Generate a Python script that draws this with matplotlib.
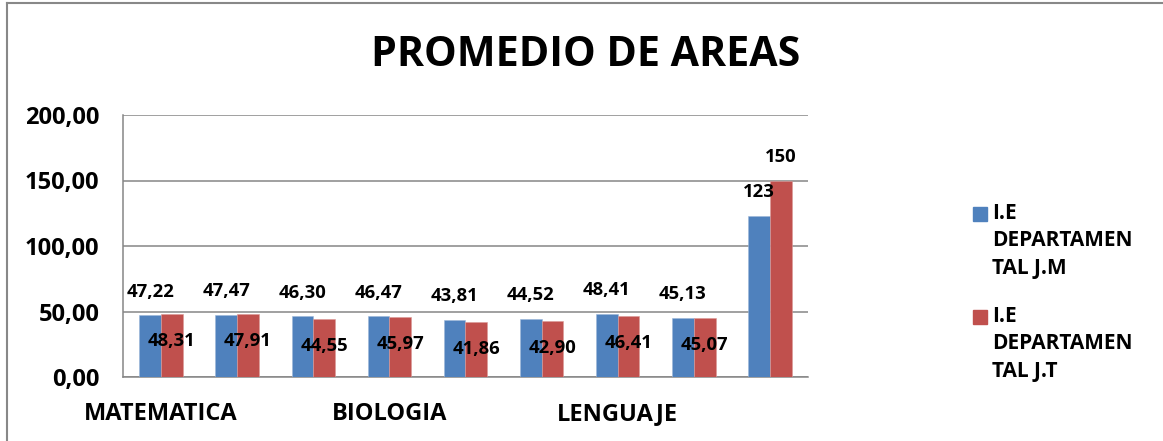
import matplotlib
matplotlib.use("Agg")
import matplotlib.pyplot as plt
from matplotlib.patches import Rectangle
from matplotlib.lines import Line2D
import numpy as np

# ---- data ----
categories = ["MATEMATICA", "", "", "BIOLOGIA", "", "", "LENGUAJE", "", ""]
series_names = ["I.E\nDEPARTAMEN\nTAL J.M", "I.E\nDEPARTAMEN\nTAL J.T"]
jm_values = [47.22, 47.47, 46.30, 46.47, 43.81, 44.52, 48.41, 45.13, 123]
jt_values = [48.31, 47.91, 44.55, 45.97, 41.86, 42.90, 46.41, 45.07, 150]
y_ticks = [0, 50, 100, 150, 200]
title = "PROMEDIO DE AREAS"

BLUE = "#4F81BD"
RED = "#C0504D"
GRID = "#868686"
FONT = "Open Sans"

W, H = 1163, 441
fig = plt.figure(figsize=(W / 100, H / 100), dpi=100)

def fx(px):
    return px / W

def fy(py):
    return 1 - py / H

ax = fig.add_axes([fx(123), fy(377), fx(808) - fx(123), fy(115) - fy(377)])

x = np.arange(len(categories))
bw = 0.285
ax.bar(x - bw / 2, jm_values, bw, color=BLUE, edgecolor="#9DB7D9", linewidth=0.4, zorder=3)
ax.bar(x + bw / 2, jt_values, bw, color=RED, edgecolor="#DA9A98", linewidth=0.4, zorder=3)

def fmt(v):
    if float(v).is_integer():
        return "%d" % v
    return ("%.2f" % v).replace(".", ",")

for i, v in enumerate(jm_values):
    ax.annotate(fmt(v), (x[i] - bw / 2, v), xytext=(0, 17), textcoords="offset points",
                ha="center", va="center", fontsize=13.3, fontweight="bold", family=FONT, zorder=5)
for i, v in enumerate(jt_values):
    off = 17 if v > 100 else -19.5
    ax.annotate(fmt(v), (x[i] + bw / 2, v), xytext=(0, off), textcoords="offset points",
                ha="center", va="center", fontsize=13.3, fontweight="bold", family=FONT, zorder=5)

ax.set_xlim(-0.5, len(categories) - 0.5)
ax.set_ylim(0, 200)
ax.set_yticks(y_ticks)
ax.set_yticklabels([("%.2f" % t).replace(".", ",") for t in y_ticks],
                   fontsize=17, fontweight="bold", family=FONT)
ax.set_xticks(x)
ax.set_xticklabels(categories, fontsize=17, fontweight="bold", family=FONT)
ax.tick_params(axis="y", length=0, pad=17)
ax.tick_params(axis="x", length=0, pad=18)
ax.grid(axis="y", color=GRID, linewidth=1.1, zorder=0)
for s in ["top", "right"]:
    ax.spines[s].set_visible(False)
for s in ["left", "bottom"]:
    ax.spines[s].set_color(GRID)
    ax.spines[s].set_linewidth(1.1)

fig.text(fx(586), fy(56), title, ha="center", va="center", fontsize=29.6,
         fontweight="bold", family=FONT)

# legend
for k, (name, col) in enumerate(zip(series_names, [BLUE, RED])):
    top = 207 + k * 103
    fig.patches.append(Rectangle((fx(973), fy(top + 14)), fx(14), fy(top) - fy(top + 14),
                                 transform=fig.transFigure, color=col))
    fig.text(fx(992), fy(top - 4), name, ha="left", va="top", fontsize=15,
             fontweight="bold", family=FONT, linespacing=1.4)

# outer frame (left and top edges)
fig.lines.append(Line2D([fx(7), fx(7)], [0, fy(3)], transform=fig.transFigure, color="#888888", linewidth=1.5))
fig.lines.append(Line2D([fx(7), 1], [fy(3), fy(3)], transform=fig.transFigure, color="#888888", linewidth=1.5))

fig.savefig("out.png", dpi=100)
